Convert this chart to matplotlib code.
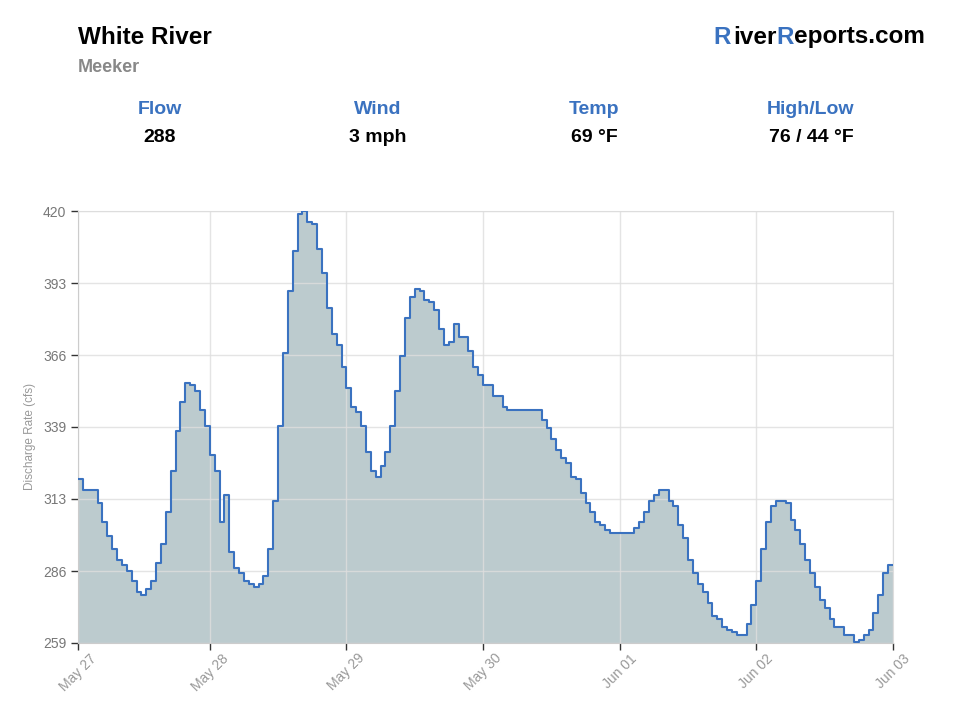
import matplotlib
matplotlib.use("Agg")
import matplotlib.pyplot as plt
import numpy as np

plt.rcParams['font.family'] = ['Liberation Sans', 'DejaVu Sans']

# hourly discharge readings (cfs)
flow = [320, 316, 316, 316, 311, 304, 299, 294, 290, 288,
        286, 282, 278, 277, 279, 282, 289, 296, 308, 323,
        338, 349, 356, 355, 353, 346, 340, 329, 323, 304,
        314, 293, 287, 285, 282, 281, 280, 281, 284, 294,
        312, 340, 367, 390, 405, 419, 420, 416, 415, 406,
        397, 384, 374, 370, 362, 354, 347, 345, 340, 330,
        323, 321, 325, 330, 340, 353, 366, 380, 388, 391,
        390, 387, 386, 383, 376, 370, 371, 378, 373, 373,
        368, 362, 359, 355, 355, 351, 351, 347, 346, 346,
        346, 346, 346, 346, 346, 342, 339, 335, 331, 328,
        326, 321, 320, 315, 311, 308, 304, 303, 301, 300,
        300, 300, 300, 300, 302, 304, 308, 312, 314, 316,
        316, 312, 310, 303, 298, 290, 285, 281, 278, 274,
        269, 268, 265, 264, 263, 262, 262, 266, 273, 282,
        294, 304, 310, 312, 312, 311, 305, 301, 296, 290,
        285, 280, 275, 272, 268, 265, 265, 262, 262, 259.5,
        260, 262, 264, 270, 277, 285, 288, 288]
hours = np.arange(len(flow))

y_min, y_max = 259, 420
y_labels = ['259', '286', '313', '339', '366', '393', '420']
x_labels = ['May 27', 'May 28', 'May 29', 'May 30', 'Jun 01', 'Jun 02', 'Jun 03']
x_ticks = [0, 27, 55, 83, 111, 139, 167]

stat_names = ['Flow', 'Wind', 'Temp', 'High/Low']
stat_values = ['288', '3 mph', '69 °F', '76 / 44 °F']

blue = '#3a72c0'
fill = '#bccbce'

fig = plt.figure(figsize=(9.6, 7.2), dpi=100)
ax = fig.add_axes([78 / 960, 1 - 643 / 720, (893 - 78) / 960, (643 - 211) / 720])

ax.fill_between(hours, flow, y_min, step='post', color=fill, lw=0, zorder=1)
ax.step(hours, flow, where='post', color=blue, lw=1.5, zorder=3)

ax.set_xlim(0, hours[-1])
ax.set_ylim(y_min, y_max)
ax.set_yticks(np.linspace(y_min, y_max, len(y_labels)))
ax.set_yticklabels(y_labels)
ax.set_xticks(x_ticks)
ax.set_xticklabels(x_labels, rotation=45, ha='center')

ax.grid(True, color='#dedede', lw=1, zorder=2, alpha=0.8)
for name in ['top', 'right']:
    ax.spines[name].set_color('#dddddd')
ax.spines['left'].set_color('#cccccc')
ax.spines['bottom'].set_color('#cccccc')
ax.tick_params(axis='both', colors='#333333', labelsize=10, length=5, width=1)
ax.tick_params(axis='y', labelcolor='#777777')
ax.tick_params(axis='x', labelcolor='#999999', pad=1)
ax.set_ylabel('Discharge Rate (cfs)', color='#999999', fontsize=8.5)
ax.yaxis.set_label_coords(-0.052, 0.477)

# header
def px(x, y):
    return x / 960, 1 - y / 720

fig.text(*px(78, 37), 'White River', fontsize=17.5, fontweight='bold',
         va='center', ha='left', color='black')
fig.text(*px(78, 68), 'Meeker', fontsize=13, fontweight='bold',
         va='center', ha='left', color='#888888')

for cx, name, val in zip([160, 378, 594, 811], stat_names, stat_values):
    fig.text(*px(cx, 109), name, fontsize=14, fontweight='bold',
             ha='center', va='center', color=blue)
    fig.text(*px(cx, 137), val, fontsize=14, fontweight='bold',
             ha='center', va='center', color='black')

# brand: RiverReports.com with blue capitals, laid out right to left
renderer = fig.canvas.get_renderer()
pieces = [('R', blue), ('iver', 'black'), ('R', blue), ('eports.com', 'black')]
x_right = 925 / 960
y_brand = 1 - 37 / 720
for txt, col in reversed(pieces):
    t = fig.text(x_right, y_brand, txt, fontsize=17.5, fontweight='bold',
                 ha='right', va='center', color=col)
    bb = t.get_window_extent(renderer)
    x_right -= bb.width / 960
    if txt == 'iver':
        x_right -= 3 / 960

fig.savefig('out.png', dpi=100)
